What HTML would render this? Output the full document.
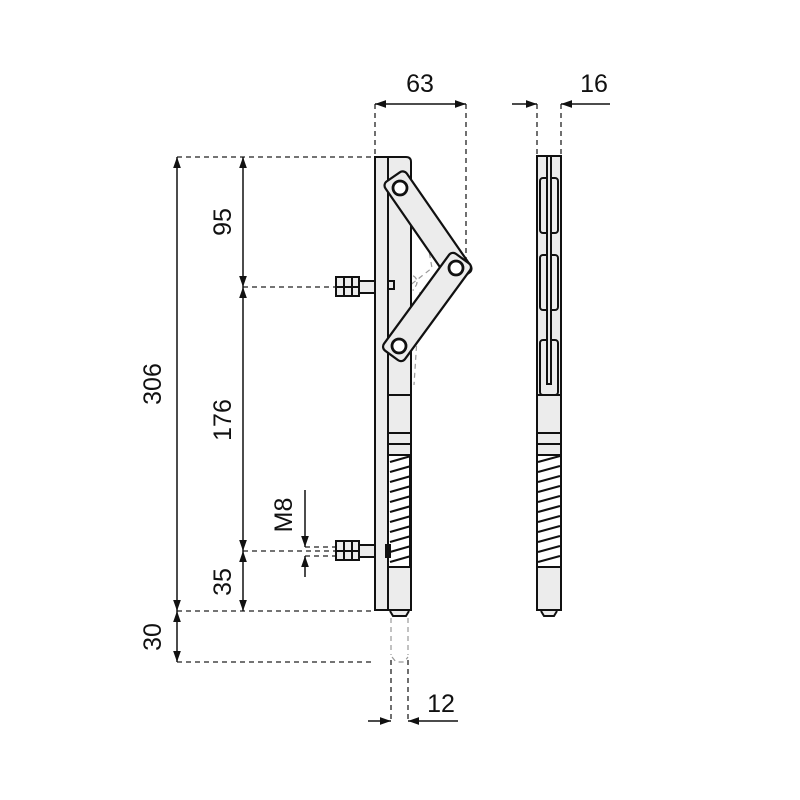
<!DOCTYPE html>
<html><head><style>body{margin:0;background:#fff}svg{display:block}text{font-family:"Liberation Sans",sans-serif;font-size:25px;fill:#111}</style></head><body>
<svg width="800" height="800" viewBox="0 0 800 800" xmlns="http://www.w3.org/2000/svg">
<defs>
<marker id="a" viewBox="0 0 10 10" refX="10" refY="5" markerWidth="11" markerHeight="11" markerUnits="userSpaceOnUse" orient="auto-start-reverse"><path d="M0,1.5 L10,5 L0,8.5 Z" fill="#111"/></marker>
</defs>
<g stroke="#222" stroke-width="1.3" stroke-dasharray="5,4" fill="none">
<line x1="375" y1="104" x2="375" y2="156"/><line x1="466" y1="104" x2="466" y2="262"/>
<line x1="537" y1="104" x2="537" y2="156"/><line x1="561" y1="104" x2="561" y2="156"/>
<line x1="177" y1="157" x2="375" y2="157"/>
<line x1="243" y1="287" x2="335" y2="287"/>
<line x1="243" y1="551" x2="335" y2="551"/>
<line x1="305" y1="547" x2="335" y2="547"/><line x1="305" y1="556" x2="335" y2="556"/>
<line x1="177" y1="611" x2="375" y2="611"/>
<line x1="177" y1="662" x2="375" y2="662"/>
<line x1="391" y1="660" x2="391" y2="721"/><line x1="408" y1="660" x2="408" y2="721"/>
</g>
<g stroke="#999" stroke-width="1.2" stroke-dasharray="5,4" fill="none">
<path d="M391 618 V655 M408 618 V655 M392 657 L396 662 H404 L408 657"/>
<path d="M394 200 L404 290 L414 290 M420 200 L432 268 L404 290 M405 290 L396 385 M420 292 L414 385"/>
<circle cx="410" cy="282" r="7"/><circle cx="401" cy="378" r="7"/>
</g>
<g stroke="#111" stroke-width="1.5" fill="none">
<line x1="375" y1="104" x2="466" y2="104" marker-start="url(#a)" marker-end="url(#a)"/>
<line x1="512" y1="104" x2="537" y2="104" marker-end="url(#a)"/>
<line x1="610" y1="104" x2="561" y2="104" marker-end="url(#a)"/>
<line x1="177" y1="157" x2="177" y2="611" marker-start="url(#a)" marker-end="url(#a)"/>
<line x1="177" y1="611" x2="177" y2="662" marker-start="url(#a)" marker-end="url(#a)"/>
<line x1="243" y1="157" x2="243" y2="287" marker-start="url(#a)" marker-end="url(#a)"/>
<line x1="243" y1="287" x2="243" y2="551" marker-start="url(#a)" marker-end="url(#a)"/>
<line x1="243" y1="551" x2="243" y2="611" marker-start="url(#a)" marker-end="url(#a)"/>
<line x1="305" y1="490" x2="305" y2="547" marker-end="url(#a)"/>
<line x1="305" y1="577" x2="305" y2="556" marker-end="url(#a)"/>
<line x1="368" y1="721" x2="391" y2="721" marker-end="url(#a)"/>
<line x1="458" y1="721" x2="408" y2="721" marker-end="url(#a)"/>
</g>
<text x="420" y="92" text-anchor="middle">63</text>
<text x="594" y="92" text-anchor="middle">16</text>
<text x="441" y="712" text-anchor="middle">12</text>
<text transform="translate(161,384) rotate(-90)" text-anchor="middle">306</text>
<text transform="translate(161,637) rotate(-90)" text-anchor="middle">30</text>
<text transform="translate(231,222) rotate(-90)" text-anchor="middle">95</text>
<text transform="translate(231,420) rotate(-90)" text-anchor="middle">176</text>
<text transform="translate(231,582) rotate(-90)" text-anchor="middle">35</text>
<text transform="translate(292,515) rotate(-90)" text-anchor="middle">M8</text>
<!-- front view -->
<g stroke="#111" stroke-width="2" fill="#ececec">
<rect x="375" y="157" width="13" height="453"/>
<path d="M388 157 H406 Q411 157 411 162 V610 H388 Z"/>
<rect x="388" y="395" width="23" height="38"/>
<rect x="388" y="433" width="23" height="22"/>
<line x1="388" y1="444" x2="411" y2="444"/>
<rect x="388" y="567" width="23" height="43"/>
<path d="M390 611 L393 616 H406 L409 611"/>
<rect x="388" y="455" width="22" height="112" fill="#fff"/>
<rect x="343" y="281" width="32" height="12" rx="1"/>
<rect x="336" y="277" width="23" height="19"/>
<line x1="344" y1="277" x2="344" y2="296"/><line x1="352" y1="277" x2="352" y2="296"/><line x1="336" y1="287" x2="359" y2="287"/>
<rect x="343" y="545" width="32" height="12" rx="1"/>
<rect x="336" y="541" width="23" height="19"/>
<line x1="344" y1="541" x2="344" y2="560"/><line x1="352" y1="541" x2="352" y2="560"/><line x1="336" y1="551" x2="359" y2="551"/>
<rect x="388" y="281" width="6" height="8"/>
<rect x="386" y="545" width="4" height="12" fill="#111"/>
</g>
<g stroke="#111" stroke-width="2.2">
<path d="M390 462 L411 456 M390 472 L411 466 M390 482 L411 476 M390 492 L411 486 M390 502 L411 496 M390 512 L411 506 M390 522 L411 516 M390 532 L411 526 M390 542 L411 536 M390 552 L411 546 M390 562 L411 556"/>
</g>
<g stroke="#111" stroke-width="2.2" fill="#ececec">
<rect x="-61" y="-13" width="122" height="26" rx="5" transform="translate(428,227) rotate(55.3)"/>
<rect x="-60" y="-13" width="120" height="26" rx="5" transform="translate(427,307) rotate(126.2)"/>
<circle cx="400" cy="188" r="7" fill="#fff" stroke-width="2.8"/>
<circle cx="456" cy="268" r="7" fill="#fff" stroke-width="2.8"/>
<circle cx="399" cy="346" r="7" fill="#fff" stroke-width="2.8"/>
</g>
<!-- side view -->
<g stroke="#111" stroke-width="2" fill="#ececec">
<rect x="537" y="156" width="24" height="454"/>
<rect x="540" y="178" width="18" height="55" rx="3"/>
<rect x="540" y="255" width="18" height="55" rx="3"/>
<rect x="540" y="340" width="18" height="55" rx="3"/>
<rect x="547" y="156" width="4" height="228"/>
<rect x="537" y="395" width="24" height="38"/>
<rect x="537" y="433" width="24" height="22"/>
<line x1="537" y1="444" x2="561" y2="444"/>
<rect x="537" y="455" width="24" height="112" fill="#fff"/>
<rect x="537" y="567" width="24" height="43"/>
<path d="M541 611 L544 616 H554 L557 611"/>
</g>
<g stroke="#111" stroke-width="2.2">
<path d="M538 462 L560 456 M538 472 L560 466 M538 482 L560 476 M538 492 L560 486 M538 502 L560 496 M538 512 L560 506 M538 522 L560 516 M538 532 L560 526 M538 542 L560 536 M538 552 L560 546 M538 562 L560 556"/>
</g>
</svg>
</body></html>
